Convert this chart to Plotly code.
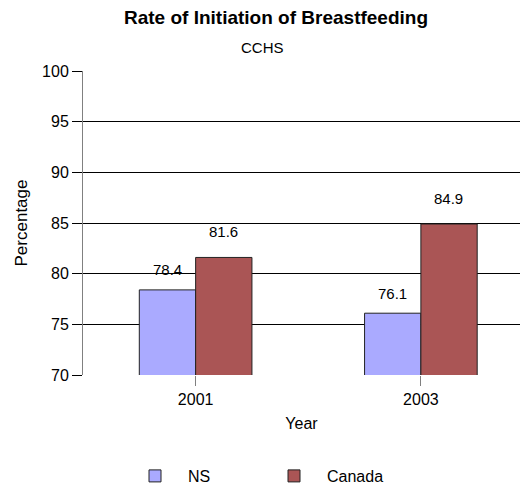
import plotly.graph_objects as go

years = ["2001", "2003"]
ns_values = [78.4, 76.1]
canada_values = [81.6, 84.9]
y_ticks = [70, 75, 80, 85, 90, 95, 100]

FONT = "Arial, Liberation Sans, sans-serif"

fig = go.Figure()
fig.add_trace(go.Bar(
    name="NS", x=years, y=ns_values,
    marker=dict(color="#AAAAFF", line=dict(color="#222222", width=1)),
))
fig.add_trace(go.Bar(
    name="Canada", x=years, y=canada_values,
    marker=dict(color="#AA5555", line=dict(color="#222222", width=1)),
))

# value labels above bars (category index positions on the x axis)
for vals, shift, ys in [(ns_values, -28, 20), (canada_values, 28, 26)]:
    for i, v in enumerate(vals):
        fig.add_annotation(x=i, y=v, xref="x", yref="y", text=f"{v}",
                           showarrow=False, xshift=shift, yshift=ys,
                           yanchor="middle",
                           font=dict(size=15, color="black", family=FONT))

fig.add_annotation(text="<b>Rate of Initiation of Breastfeeding</b>", xref="paper", yref="paper",
                   x=(276 - 83) / 437, y=1, yshift=54, yanchor="middle", showarrow=False,
                   font=dict(size=19, color="black", family=FONT))
fig.add_annotation(text="CCHS", xref="paper", yref="paper",
                   x=(262 - 83) / 437, y=1, yshift=24, yanchor="middle", showarrow=False,
                   font=dict(size=15, color="black", family=FONT))

fig.update_layout(
    width=524, height=486,
    margin=dict(l=83, r=4, t=71, b=111),
    paper_bgcolor="white", plot_bgcolor="white",
    barmode="group", bargap=0.5, bargroupgap=0,
    font=dict(family=FONT, size=16, color="black"),
    showlegend=True,
    legend=dict(orientation="h", xref="container", x=122 / 524, xanchor="left",
                yref="container", y=10 / 486, yanchor="middle",
                font=dict(size=16, family=FONT), itemwidth=56, entrywidth=68,
                traceorder="normal"),
    xaxis=dict(
        type="category", range=[-0.5, 1.44],
        showline=False, ticks="outside", ticklen=10, tickcolor="#808080",
        tickfont=dict(size=16), showgrid=False, automargin=False,
        title=dict(text="Year", font=dict(size=16), standoff=10),
    ),
    yaxis=dict(
        range=[70, 100], tickvals=y_ticks,
        showline=True, linecolor="#808080", linewidth=1,
        ticks="outside", ticklen=10, tickcolor="black",
        showgrid=True, gridcolor="black", gridwidth=1,
        tickfont=dict(size=16), zeroline=False, automargin=False,
        title=dict(text="Percentage", font=dict(size=17), standoff=10),
    ),
)

fig.write_html("out.html", config={"displayModeBar": False},
               post_script="document.body.style.margin='0';")
